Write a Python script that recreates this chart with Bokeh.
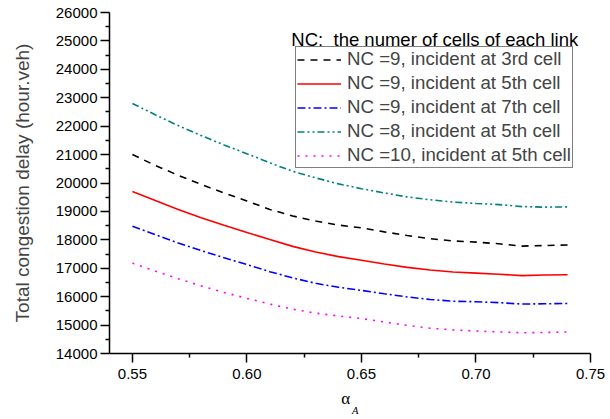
from bokeh.plotting import figure
from bokeh.models import Range1d, Legend, LegendItem, Label, FixedTicker, LinearAxis
from bokeh.embed import file_html
from bokeh.resources import INLINE

alpha = [0.55, 0.56, 0.57, 0.58, 0.59, 0.60, 0.61, 0.62, 0.63, 0.64,
         0.65, 0.66, 0.67, 0.68, 0.69, 0.70, 0.71, 0.72, 0.73, 0.74]

nc9_cell3 = [21000, 20620, 20270, 19950, 19650, 19370, 19070, 18840, 18660, 18520,
             18420, 18280, 18150, 18040, 17960, 17920, 17860, 17780, 17800, 17820]
nc9_cell5 = [19700, 19380, 19070, 18780, 18510, 18260, 18010, 17770, 17570, 17410,
             17280, 17150, 17030, 16940, 16870, 16830, 16790, 16740, 16760, 16770]
nc9_cell7 = [18480, 18180, 17890, 17620, 17370, 17130, 16880, 16660, 16470, 16330,
             16220, 16100, 15990, 15900, 15840, 15820, 15790, 15740, 15750, 15760]
nc8_cell5 = [22800, 22400, 22020, 21670, 21340, 21030, 20710, 20410, 20180, 19970,
             19800, 19650, 19510, 19410, 19330, 19280, 19240, 19170, 19150, 19160]
nc10_cell5 = [17180, 16900, 16630, 16380, 16150, 15940, 15740, 15560, 15420, 15320,
              15230, 15110, 14990, 14890, 14830, 14790, 14760, 14730, 14740, 14760]

legend_labels = ["NC =9, incident at 3rd cell", "NC =9, incident at 5th cell",
                 "NC =9, incident at 7th cell", "NC =8, incident at 5th cell",
                 "NC =10, incident at 5th cell"]
x_ticks = [0.55, 0.60, 0.65, 0.70, 0.75]
y_ticks = list(range(14000, 26001, 1000))

FONT = "Liberation Sans"

p = figure(width=610, height=419, output_backend="svg", toolbar_location=None,
           x_range=Range1d(0.54, 0.75), y_range=Range1d(14000, 26000),
           min_border_left=109, min_border_right=20, min_border_top=12,
           min_border_bottom=66)
p.outline_line_color = None
p.xgrid.visible = False
p.ygrid.visible = False

series = [nc9_cell3, nc9_cell5, nc9_cell7, nc8_cell5, nc10_cell5]
colors = ["#000000", "#FF0000", "#0000FF", "#008080", "#FF00FF"]
dashes = ["7 6", "solid", "8 3 2 3", "7 3 2 3 2 3", "2 6"]
items = []
for ys, c, d, lab in zip(series, colors, dashes, legend_labels):
    r = p.line(alpha, ys, line_color=c, line_width=1.6, line_dash=d)
    items.append(LegendItem(label=lab, renderers=[r]))

legend = Legend(items=items, location=(186, 185), label_text_font=FONT,
                label_text_font_size="18.7px", glyph_width=44, glyph_height=21,
                label_height=21, label_standoff=6, spacing=2, padding=1, margin=0,
                border_line_color="#000000", border_line_width=1.2,
                background_fill_alpha=1.0)
p.add_layout(legend, "center")

for ax in (p.xaxis[0], p.yaxis[0]):
    ax.axis_line_width = 1.5
    ax.major_tick_line_width = 1.5
    ax.minor_tick_line_width = 1.5
    ax.major_tick_in = 0
    ax.major_tick_out = 9
    ax.minor_tick_in = 0
    ax.minor_tick_out = 4
    ax.major_label_text_font = FONT
    ax.major_label_text_font_size = "15px"
    ax.major_label_text_color = "#000000"
    ax.axis_line_color = "#000000"
    ax.major_tick_line_color = "#000000"
    ax.minor_tick_line_color = "#000000"

p.xaxis.ticker = FixedTicker(ticks=x_ticks, minor_ticks=[0.575, 0.625, 0.675, 0.725])
p.xaxis.major_label_overrides = {t: f"{t:.2f}" for t in x_ticks}
p.xaxis.major_label_standoff = 6
p.yaxis.ticker = FixedTicker(ticks=y_ticks, minor_ticks=[v + 500 for v in y_ticks[:-1]])
p.yaxis.major_label_standoff = 3

p.yaxis.axis_label = "Total congestion delay (hour.veh)"
p.yaxis.axis_label_text_font = FONT
p.yaxis.axis_label_text_font_size = "19px"
p.yaxis.axis_label_text_font_style = "normal"
p.yaxis.axis_label_standoff = 20

# x-axis label: alpha with an italic subscript A (second, empty axis carries the subscript)
p.xaxis.axis_label = "α\u00a0\u00a0"
p.xaxis.axis_label_text_font = "Liberation Serif"
p.xaxis.axis_label_text_font_size = "17px"
p.xaxis.axis_label_text_font_style = "normal"
p.xaxis.axis_label_text_color = "#000000"
p.xaxis.axis_label_standoff = 7

sub_axis = LinearAxis(ticker=FixedTicker(ticks=[]), axis_line_color=None,
                      major_tick_line_color=None, minor_tick_line_color=None,
                      major_tick_out=0, major_tick_in=0, minor_tick_out=0,
                      minor_tick_in=0, major_label_text_font_size="1px",
                      axis_label="\u00a0\u00a0\u00a0\u00a0A",
                      axis_label_text_font="Liberation Serif",
                      axis_label_text_font_style="italic",
                      axis_label_text_font_size="10.5px",
                      axis_label_text_color="#000000",
                      axis_label_standoff=-6)
p.add_layout(sub_axis, "below")

p.add_layout(Label(x=0.6194, y=25051, text="NC:\u00a0 the numer of cells of each link",
                   text_font=FONT, text_font_size="18.5px", text_baseline="alphabetic",
                   text_color="#000000"))

open("out.html", "w").write(file_html(p, INLINE))
